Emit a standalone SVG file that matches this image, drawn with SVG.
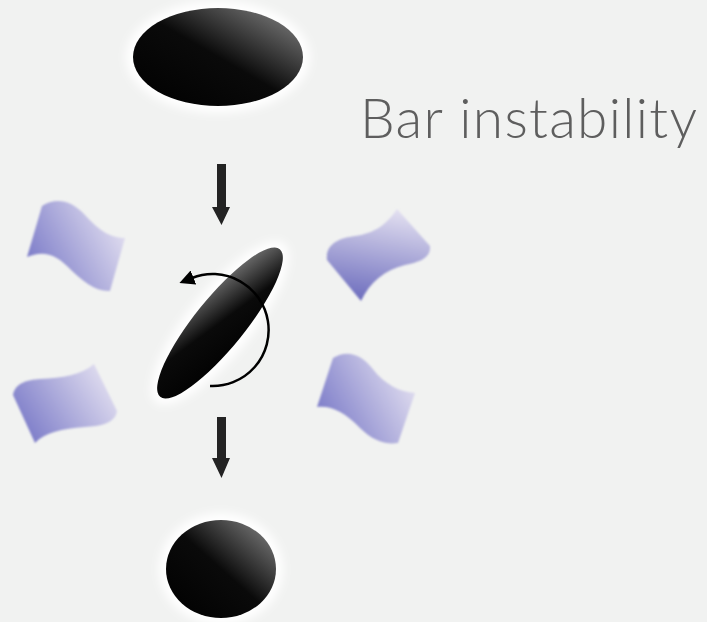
<svg xmlns="http://www.w3.org/2000/svg" width="707" height="622" viewBox="0 0 707 622">
  <defs>
    <style>
      .halo { fill: #ffffff; filter: url(#soft); }
      .body { fill: url(#gloss); }
      .flag { filter: url(#edge); }
      .shaft { fill: #232323; }
      .label { font-family: Lato, "Open Sans", sans-serif; font-weight: 300; font-size: 55px; fill: #5e5e5e; }
    </style>
    <filter id="soft" x="-30%" y="-30%" width="160%" height="160%">
      <feGaussianBlur stdDeviation="5"/>
    </filter>
    <filter id="edge" x="-10%" y="-10%" width="120%" height="120%">
      <feGaussianBlur stdDeviation="0.8"/>
    </filter>
    <linearGradient id="gloss" x1="0" y1="1" x2="1" y2="0">
      <stop offset="0" stop-color="#000000"/>
      <stop offset="0.5" stop-color="#0a0a0a"/>
      <stop offset="1" stop-color="#8a8a8a"/>
    </linearGradient>
    <linearGradient id="lilacLR" x1="0" y1="0.8" x2="1" y2="0.3">
      <stop offset="0" stop-color="#7676c6"/>
      <stop offset="1" stop-color="#e2dff0"/>
    </linearGradient>
    <linearGradient id="lilacTB" x1="0.4" y1="1" x2="0.6" y2="0">
      <stop offset="0" stop-color="#6e6ebe"/>
      <stop offset="1" stop-color="#e2dff0"/>
    </linearGradient>
    <marker id="tip" viewBox="0 0 10 10" refX="1" refY="5" markerWidth="6" markerHeight="6" orient="auto" markerUnits="strokeWidth">
      <path d="M0,0 L10,5 L0,10 Z" fill="#000000"/>
    </marker>
  </defs>

  <rect width="707" height="622" fill="#f1f2f1"/>

  <!-- disc -->
  <g id="disc">
    <ellipse class="halo" cx="218" cy="57" rx="92" ry="56"/>
    <ellipse class="body" cx="218" cy="57" rx="85" ry="49"/>
  </g>

  <!-- rotating bar -->
  <g id="bar">
    <ellipse class="halo" cx="220" cy="323" rx="102" ry="32" transform="rotate(-51 220 323)"/>
    <ellipse class="body" cx="220" cy="323" rx="95" ry="25" transform="rotate(-51 220 323)"/>
  </g>

  <!-- spheroid -->
  <g id="spheroid">
    <ellipse class="halo" cx="221" cy="569" rx="62" ry="56"/>
    <ellipse class="body" cx="221" cy="569" rx="55" ry="49"/>
  </g>

  <!-- perturbation sheets -->
  <g id="sheet-ul">
    <path class="flag" fill="url(#lilacLR)" d="M42,206 C55,198 70,199 85,215 C100,232 112,238 125,238 L110,291 C96,292 82,281 67,266 C52,251 39,252 27,257 Z"/>
  </g>
  <g id="sheet-ur">
    <path class="flag" fill="url(#lilacTB)" d="M327,260 C325,245 338,238 355,236 C375,233 386,225 397,209 L430,246 C431,258 420,262 405,265 C385,270 370,282 361,301 Z"/>
  </g>
  <g id="sheet-ll">
    <path class="flag" fill="url(#lilacLR)" d="M13,395 C15,383 27,380 40,379 C62,378 82,375 94,364 L117,411 C115,424 100,426 85,427 C62,429 45,432 35,443 Z"/>
  </g>
  <g id="sheet-lr">
    <path class="flag" fill="url(#lilacLR)" d="M333,358 C346,350 360,353 372,368 C385,385 400,392 415,393 L398,443 C385,445 372,440 360,428 C345,412 330,405 317,407 Z"/>
  </g>

  <!-- connectors -->
  <g id="connectors">
    <path class="shaft" d="M217,164 H226 V207 H230 L221.5,225 L212,207 H217 Z"/>
    <path class="shaft" d="M217,417 H226 V458 H230 L221.5,478 L212,458 H217 Z"/>
    <path d="M210,386 A56,56 0 1 0 192,278" fill="none" stroke="#000000" stroke-width="2.5" marker-end="url(#tip)"/>
  </g>

  <text class="label" x="360" y="138" textLength="337" lengthAdjust="spacing">Bar instability</text>
</svg>
